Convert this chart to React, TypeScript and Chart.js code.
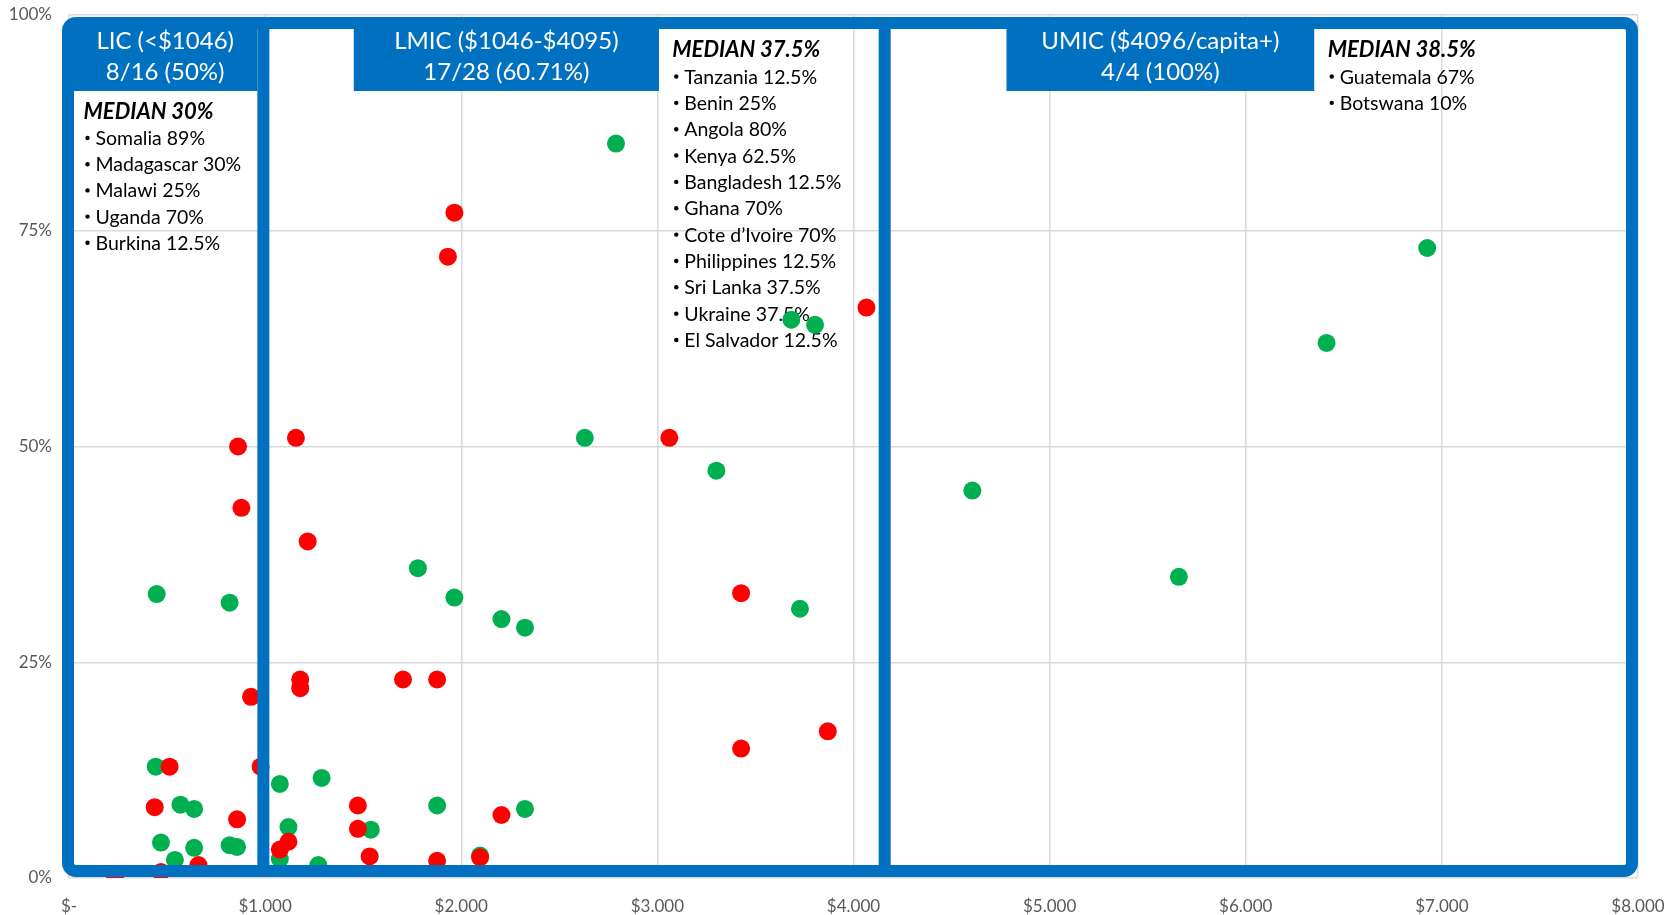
import React, { useEffect, useRef } from "react";
import { Chart, registerables } from "chart.js";

Chart.register(...registerables);

const FONT = "Lato, 'Open Sans', sans-serif";
const BLUE = "#0070C0";
const GREEN = "#00B050";
const RED = "#FF0000";

// axis ticks
const xTickValues = [0, 1000, 2000, 3000, 4000, 5000, 6000, 7000, 8000];
const xTickLabels = ["$-", "$1.000", "$2.000", "$3.000", "$4.000", "$5.000", "$6.000", "$7.000", "$8.000"];
const yTickValues = [0, 25, 50, 75, 100];
const yTickLabels = ["0%", "25%", "50%", "75%", "100%"];

// green series (GDP per capita $, share %)
const greenIncome = [
  2789, 6925, 6412, 3683, 3804, 2630, 3301, 4606, 5659, 1779, 1965, 2205, 2325, 3727,
  447, 819, 442, 568, 638, 469, 638, 819, 857, 540, 1075, 1288, 1119, 1075, 1271, 1539,
  1877, 2325, 2096,
];
const greenShare = [
  85.1, 73.0, 62.0, 64.7, 64.1, 51.0, 47.2, 44.9, 34.9, 35.9, 32.5, 30.0, 29.0, 31.2,
  32.9, 31.9, 12.9, 8.5, 8.0, 4.1, 3.5, 3.8, 3.6, 2.1, 10.9, 11.6, 5.9, 2.2, 1.5, 5.6,
  8.4, 8.0, 2.6,
];

// red series
const redIncome = [
  1965, 1932, 4066, 1157, 3061, 862, 879, 1217, 3427, 1179, 1179, 1703, 1877, 928,
  3427, 3869, 513, 977, 437, 857, 1473, 1473, 2205, 1119, 1075, 1533, 1877, 2096, 660,
  469, 235,
];
const redShare = [
  77.1, 72.0, 66.1, 51.0, 51.0, 50.0, 42.9, 39.0, 33.0, 23.0, 22.0, 23.0, 23.0, 21.0,
  15.0, 17.0, 12.9, 12.9, 8.2, 6.8, 8.4, 5.7, 7.3, 4.2, 3.3, 2.5, 2.0, 2.4, 1.5,
  0.7, 0.0,
];

// group annotations
const groupTitles = ["LIC (<$1046)", "LMIC ($1046-$4095)", "UMIC ($4096/capita+)"];
const groupRatios = ["8/16 (50%)", "17/28 (60.71%)", "4/4 (100%)"];
const groupMedians = ["MEDIAN 30%", "MEDIAN 37.5%", "MEDIAN 38.5%"];
const licItems = ["Somalia 89%", "Madagascar 30%", "Malawi 25%", "Uganda 70%", "Burkina 12.5%"];
const lmicItems = [
  "Tanzania 12.5%", "Benin 25%", "Angola 80%", "Kenya 62.5%", "Bangladesh 12.5%", "Ghana 70%",
  "Cote d\u2019Ivoire 70%", "Philippines 12.5%", "Sri Lanka 37.5%", "Ukraine 37.5%", "El Salvador 12.5%",
];
const umicItems = ["Guatemala 67%", "Botswana 10%"];
const groupItems = [licItems, lmicItems, umicItems];

// panel geometry in axis units ($)
const groupDividers = [991, 4159];
const headerSpans = [[0, 0], [1452, 3008], [4780, 6349]];
const textAnchors = [74, 3076, 6418];

const panelPlugin = {
  id: "panels",
  beforeDatasetsDraw(chart: any) {
    const { ctx, chartArea: ca, scales } = chart;
    const x = scales.x;
    ctx.save();
    const hTop = ca.top + 14;
    const hBottom = ca.top + 76;
    for (let g = 0; g < 3; g++) {
      let l: number, r: number;
      if (g === 0) {
        l = ca.left + 4;
        r = x.getPixelForValue(groupDividers[0]) - 6;
      } else {
        l = x.getPixelForValue(headerSpans[g][0]);
        r = x.getPixelForValue(headerSpans[g][1]);
      }
      ctx.fillStyle = BLUE;
      ctx.fillRect(l, hTop, r - l, hBottom - hTop);
      ctx.fillStyle = "#ffffff";
      ctx.font = `24px ${FONT}`;
      ctx.textAlign = "center";
      ctx.textBaseline = "alphabetic";
      const cx = (l + r) / 2;
      ctx.fillText(groupTitles[g], cx, ca.top + 33.5);
      ctx.fillText(groupRatios[g], cx, ca.top + 65);

      // text block
      const ax = x.getPixelForValue(textAnchors[g]);
      const medBase = g === 0 ? ca.top + 103.5 : ca.top + 42;
      const itemBase = g === 0 ? ca.top + 130 : ca.top + 68.5;
      const step = g === 0 ? 26.2 : 26.35;
      ctx.fillStyle = "#000000";
      ctx.textAlign = "left";
      ctx.font = `italic bold 22px ${FONT}`;
      ctx.fillText(groupMedians[g], ax, medBase);
      ctx.font = `19.5px ${FONT}`;
      groupItems[g].forEach((t, i) => {
        const yb = itemBase + step * i;
        ctx.beginPath();
        ctx.arc(ax + 4, yb - 7, 2.2, 0, Math.PI * 2);
        ctx.fill();
        ctx.fillText(t, ax + 12, yb);
      });
    }
    ctx.restore();
  },
  afterDatasetsDraw(chart: any) {
    const { ctx, chartArea: ca, scales } = chart;
    const x = scales.x;
    ctx.save();
    ctx.strokeStyle = BLUE;
    ctx.lineWidth = 12;
    ctx.lineJoin = "round";
    const l = ca.left - 1;
    const t = ca.top + 8;
    const r = ca.right - 6;
    const b = ca.bottom - 7;
    ctx.beginPath();
    ctx.roundRect(l, t, r - l, b - t, 8);
    ctx.stroke();
    ctx.beginPath();
    groupDividers.forEach((v) => {
      const px = x.getPixelForValue(v);
      ctx.moveTo(px, t);
      ctx.lineTo(px, b);
    });
    ctx.stroke();
    ctx.restore();
  },
};

export default function App() {
  const ref = useRef<HTMLCanvasElement | null>(null);
  useEffect(() => {
    if (!ref.current) return;
    const chart = new Chart(ref.current, {
      type: "scatter",
      data: {
        datasets: [
          {
            label: "red",
            data: redIncome.map((v, i) => ({ x: v, y: redShare[i] })),
            backgroundColor: RED,
            borderWidth: 0,
            pointRadius: 9,
          },
          {
            label: "green",
            data: greenIncome.map((v, i) => ({ x: v, y: greenShare[i] })),
            backgroundColor: GREEN,
            borderWidth: 0,
            pointRadius: 9,
          },
        ],
      },
      options: {
        animation: false,
        responsive: false,
        maintainAspectRatio: false,
        devicePixelRatio: 1,
        layout: { padding: { top: 15, right: 37, left: 0, bottom: 0 } },
        plugins: { legend: { display: false }, tooltip: { enabled: false } },
        scales: {
          x: {
            type: "linear",
            min: 0,
            max: 8000,
            afterBuildTicks: (s: any) => {
              s.ticks = xTickValues.map((v) => ({ value: v }));
            },
            afterFit: (s: any) => {
              s.height = 37;
              s.paddingLeft = 0;
              s.paddingRight = 0;
            },
            ticks: {
              autoSkip: false,
              maxRotation: 0,
              padding: 18,
              color: "#595959",
              font: { family: FONT, size: 17 },
              callback: (v: any) => xTickLabels[xTickValues.indexOf(Number(v))] ?? "",
            },
            grid: { color: "#d9d9d9", lineWidth: 1.5, drawTicks: false },
            border: { display: false },
          },
          y: {
            type: "linear",
            min: 0,
            max: 100,
            afterBuildTicks: (s: any) => {
              s.ticks = yTickValues.map((v) => ({ value: v }));
            },
            afterFit: (s: any) => {
              s.width = 69;
              s.paddingTop = 0;
              s.paddingBottom = 0;
            },
            ticks: {
              padding: 17,
              color: "#595959",
              font: { family: FONT, size: 17 },
              callback: (v: any) => yTickLabels[yTickValues.indexOf(Number(v))] ?? "",
            },
            grid: { color: "#d9d9d9", lineWidth: 1.5, drawTicks: false },
            border: { display: false },
          },
        },
      },
      plugins: [panelPlugin],
    } as any);
    return () => chart.destroy();
  }, []);
  return (
    <div style={{ position: "fixed", left: 0, top: 0, width: 1675, height: 915, background: "#ffffff" }}>
      <canvas ref={ref} width={1675} height={915} style={{ display: "block", width: 1675, height: 915 }} />
    </div>
  );
}
